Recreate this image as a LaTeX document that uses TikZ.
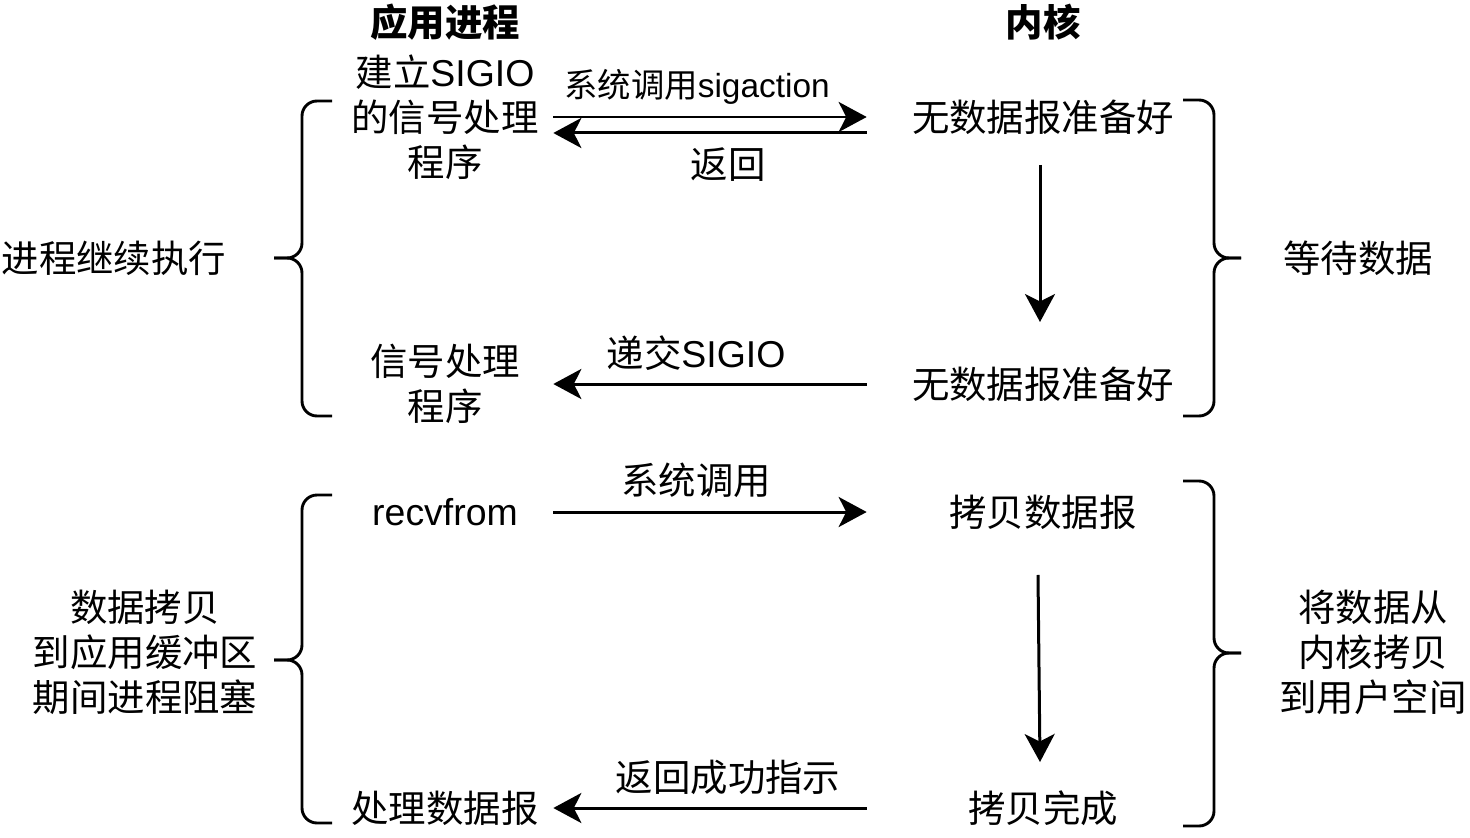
\documentclass[tikz,border=0pt]{standalone}
\usepackage{fontspec}
\setmainfont{Noto Sans CJK SC}
\newfontfamily\lat{Liberation Sans}
\usetikzlibrary{arrows.meta}
\begin{document}
\begin{tikzpicture}[x=0.02cm,y=-0.02cm,
  txt/.style={inner sep=0pt,align=center,font=\fontsize{21.3}{25.6}\selectfont},
  lnode/.style={txt,minimum width=4.32cm},
  rnode/.style={txt,minimum width=7.04cm},
  title/.style={txt,font=\fontsize{21.3}{25.6}\selectfont\bfseries},
  arr/.style={line width=0.06cm,-{Stealth[length=0.56cm,width=0.6cm,inset=0.15cm]}},
  brace/.style={line width=0.058cm,rounded corners=0.3cm}]
\useasboundingbox (0,0) rectangle (1470,838);

% column headings
\node[title] (happ) at (445,22) {应用进程};
\node[title] (hker) at (1043,22) {内核};

% signal-driven part
\node[lnode] (setup) at (445,117) {建立{\lat SIGIO}\\的信号处理\\程序};
\node[rnode] (nd1) at (1043,117) {无数据报准备好};
\node[rnode] (nd2) at (1043,384) {无数据报准备好};
\node[lnode] (sig) at (445,384) {信号处理\\程序};

% data copy part
\node[lnode] (recv) at (445,512) {{\lat recvfrom}};
\node[rnode] (copy) at (1043,512) {拷贝数据报};
\node[rnode] (done) at (1043,808) {拷贝完成};
\node[lnode] (proc) at (445,808) {处理数据报};

% connector labels
\node[txt,font=\fontsize{19}{23}\selectfont] (l1) at (697,87) {系统调用{\lat sigaction}};
\node[txt] (l2) at (728,165) {返回};
\node[txt] (l3) at (696,353) {递交{\lat SIGIO}};
\node[txt] (l4) at (696,480) {系统调用};
\node[txt] (l5) at (728,777) {返回成功指示};

% side notes
\node[txt] (s1) at (114,258) {进程继续执行};
\node[txt] (s2) at (1358,258) {等待数据};
\node[txt] (s3) at (145,652) {数据拷贝\\到应用缓冲区\\期间进程阻塞};
\node[txt] (s4) at (1373,652) {将数据从\\内核拷贝\\到用户空间};

% connectors
\draw[arr] (setup.east) -- (nd1.west);
\draw[arr] ([yshift=-0.32cm]nd1.west) -- ([yshift=-0.32cm]setup.east);
\draw[arr] ([xshift=-0.06cm,yshift=-0.96cm]nd1.center) -- ([xshift=-0.06cm,yshift=1.24cm]nd2.center);
\draw[arr] (nd2.west) -- (sig.east |- nd2.west);
\draw[arr] (recv.east) -- (copy.west);
\draw[arr] ([xshift=-0.1cm,yshift=-1.26cm]copy.center) -- ([xshift=-0.06cm,yshift=0.92cm]done.center);
\draw[arr] (done.west) -- (proc.east);

% braces
\draw[brace] (332,101) -| (302,258) -- (274,258);
\draw[brace] (274,258) -| (302,416) -- (332,416);
\draw[brace] (1183,100) -| (1214,258) -- (1241,258);
\draw[brace] (1241,258) -| (1214,416) -- (1183,416);
\draw[brace] (332,495) -| (302,660) -- (274,660);
\draw[brace] (274,660) -| (302,823) -- (332,823);
\draw[brace] (1183,481) -| (1214,653) -- (1241,653);
\draw[brace] (1241,653) -| (1214,826) -- (1183,826);
\end{tikzpicture}
\end{document}
